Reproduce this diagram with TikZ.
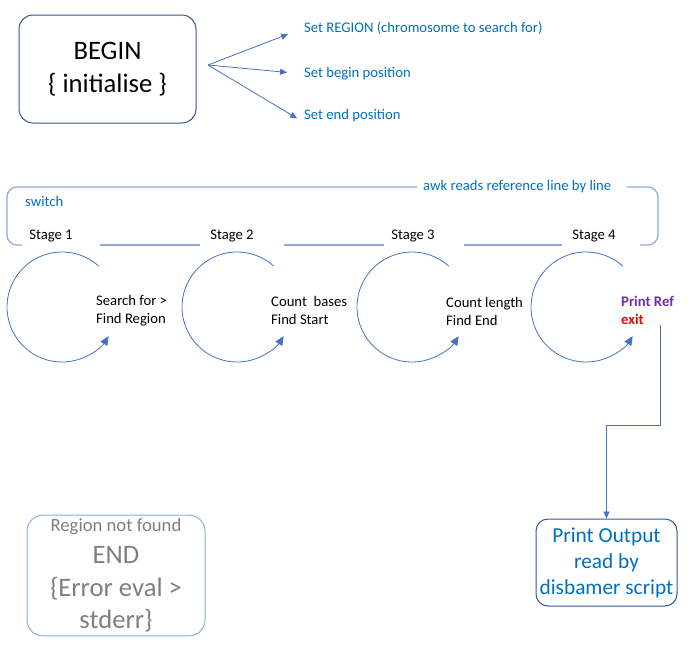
\documentclass[tikz,border=0pt]{standalone}
\usepackage{fontspec}
\setmainfont{Carlito}
\usetikzlibrary{positioning,arrows.meta}
\definecolor{awkblue}{HTML}{0070C0}
\definecolor{loopblue}{HTML}{4472C4}
\definecolor{navyline}{HTML}{2F5597}
\definecolor{paleline}{HTML}{8FAADC}
\definecolor{greytext}{HTML}{7F7F7F}
\definecolor{refpurple}{HTML}{7030A0}
\begin{document}
\begin{tikzpicture}[x=1pt,y=-1pt,
	info/.style={anchor=west, inner sep=0pt, text=awkblue, font=\fontsize{14.67}{18}\selectfont},
	stagelabel/.style={inner sep=0pt, font=\fontsize{14.67}{18}\selectfont},
	todo/.style={anchor=west, inner sep=0pt, align=left, font=\fontsize{14.67}{18}\selectfont},
	cyclearc/.style={loopblue, line width=0.8pt, -{Triangle[length=9pt,width=8pt]}},
	setarrow/.style={loopblue, line width=0.8pt, -{Triangle[length=7pt,width=6pt]}},
	bracket/.style={paleline, line width=1.2pt, rounded corners=10pt}]
	
	\useasboundingbox (0,0) rectangle (697,651);
	
	\def\raio{55};
	
	% initialise block
	\node[draw=navyline, line width=1pt, rounded corners=14pt, minimum width=177pt, minimum height=108pt, align=center, font=\fontsize{26.67}{33}\selectfont] (begin) at (107.5,69) {BEGIN\\\{ initialise \}};
	\coordinate (fan) at (208,65);
	
	\node[info] (region) at (304,28) {Set REGION (chromosome to search for)};
	\node[info] (bpos) at (304,74) {Set begin position};
	\node[info] (epos) at (304,116) {Set end position};
	
	\draw[setarrow, shorten >=17pt] (fan) -- (region.west);
	\draw[setarrow, shorten >=17pt] (fan) -- (bpos.west);
	\draw[setarrow, shorten >=8pt] (fan) -- (epos.south west);
	
	% awk loop bracket
	\node[info] (awk) at (423,187) {awk reads reference line by line};
	\node[info] (switch) at (25,201) {switch};
	\draw[bracket] (417,187) -- (7,187) -- (7,245) -- (22,245);
	\draw[bracket] (627,187) -- (658,187) -- (658,245) -- (640,245);
	\draw[bracket] (100,245) -- (200,245);
	\draw[bracket] (284,245) -- (384,245);
	\draw[bracket] (464,245) -- (562,245);
	
	\node[stagelabel] (s1) at (51,236) {Stage 1};
	\node[stagelabel] (s2) at (232,236) {Stage 2};
	\node[stagelabel] (s3) at (413,236) {Stage 3};
	\node[stagelabel] (s4) at (594,236) {Stage 4};
	
	% stages
	\coordinate (c1) at (62,307);
	\coordinate (c2) at (237,307);
	\coordinate (c3) at (412,307);
	\coordinate (c4) at (586,307);
	\foreach \c in {1,...,4}
		\draw[cyclearc] ([shift={(-48:\raio)}]c\c) arc (-48:-328:\raio);
	
	\node[todo] (find) at (96,311) {Search for >\\Find Region};
	\node[todo] (start) at (271,310) {Count\ \ bases\\Find Start};
	\node[todo] (length) at (446,311) {Count length\\Find End};
	\node[todo, font=\fontsize{14.67}{18}\selectfont\bfseries] (printref) at (621,310) {\textcolor{refpurple}{Print Ref}\\\textcolor{red}{exit}};
	
	% endings
	\node[draw=navyline, line width=1pt, rounded corners=12pt, minimum width=141pt, minimum height=87pt, align=center, text=awkblue, font=\fontsize{21.33}{26}\selectfont] (printout) at (606.5,562.5) {Print Output\\read by\\disbamer script};
	
	\node[draw=paleline, line width=1pt, rounded corners=16pt, minimum width=178pt, minimum height=113pt, align=center, text=greytext, font=\fontsize{26.67}{32.5}\selectfont] (notfound) at (116,575.5) {\fontsize{18.67}{28}\selectfont Region not found\\\fontsize{26.67}{32.5}\selectfont END\\\{Error eval >\\stderr\}};
	
	\coordinate (drop) at (660,325);
	\draw[setarrow] (drop) -- ++(0,100) -| (printout.north);

\end{tikzpicture}
\end{document}
